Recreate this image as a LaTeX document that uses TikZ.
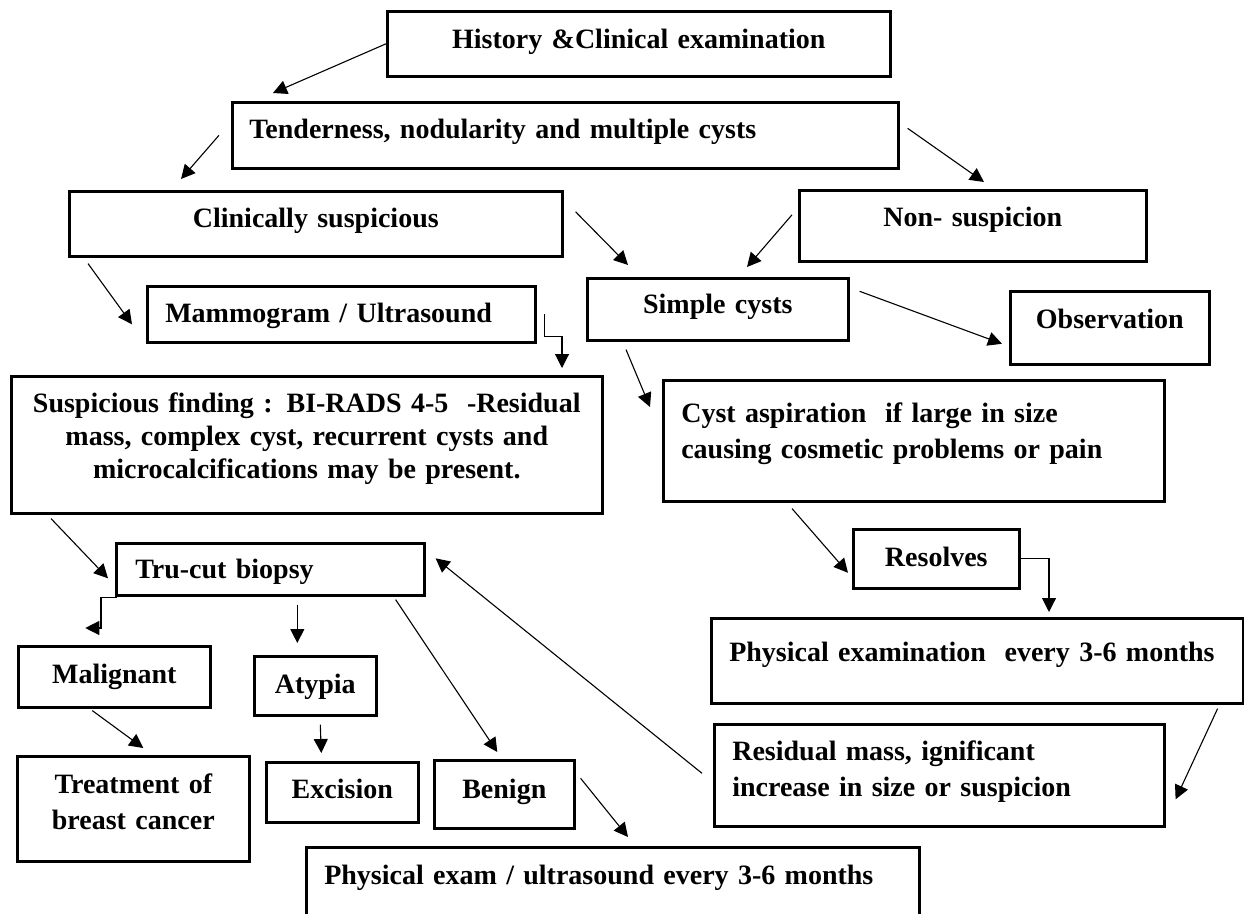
\documentclass[tikz,border=0pt]{standalone}
\usepackage{fontspec}
\setmainfont{Liberation Serif}
\usetikzlibrary{arrows.meta,calc}
\tikzset{
    box/.style={draw, line width=2.6pt, inner sep=0pt, anchor=north west, font=\bfseries\fontsize{28}{36}\selectfont},
    mid/.style={align=center},
    left/.style={align=left, inner xsep=18pt},
    flow/.style={line width=1.1pt, -{Triangle[length=14pt,width=14pt]}}
}
\begin{document}
\begin{tikzpicture}[x=1pt,y=-1pt]
        \useasboundingbox (0,0) rectangle (1244,913);
        % boxes
        \node[box, mid, text width=503pt, text height=37pt, text depth=28pt] (hist) at (386,10) {History \&Clinical examination};
        \node[box, left, inner xsep=17pt, text width=632pt, text height=36pt, text depth=30pt] (ten) at (231,101) {Tenderness, nodularity and multiple cysts};
        \node[box, mid, text width=493pt, text height=36pt, text depth=29pt] (clin) at (68,190) {Clinically suspicious};
        \node[box, mid, text width=347pt, text height=36pt, text depth=35pt] (nons) at (798,189) {Non- suspicion};
        \node[box, left, text width=352pt, text height=36pt, text depth=20pt] (mam) at (146,285) {Mammogram / Ultrasound};
        \node[box, mid, text width=261pt, text height=35pt, text depth=27pt] (simp) at (586,277) {Simple cysts};
        \node[box, mid, text width=199pt, text height=37pt, text depth=36pt] (obs) at (1009,290) {Observation};
        \node[box, mid, text width=591pt, text height=36pt, text depth=101pt, font=\bfseries\fontsize{28}{33}\selectfont] (susp) at (10,375)
            {Suspicious finding : BI-RADS 4-5\ \ -Residual\\ mass, complex cyst, recurrent cysts and\\ microcalcifications may be present.};
        \node[box, left, text width=465pt, text height=42pt, text depth=79pt] (cyst) at (662,379)
            {Cyst aspiration\ \ if large in size\\ causing cosmetic problems or pain};
        \node[box, left, inner xsep=19pt, text width=270pt, text height=35pt, text depth=17pt] (tru) at (115,542) {Tru-cut biopsy};
        \node[box, mid, text width=166pt, text height=37pt, text depth=22pt] (res) at (852,528) {Resolves};
        \node[box, left, text width=496pt, text height=43pt, text depth=42pt] (phys) at (710,617) {\mbox{Physical examination\ \ every 3-6 months}};
        \node[box, left, text width=414pt, text height=36pt, text depth=66pt] (resid) at (713,723)
            {Residual mass, ignificant\\ increase in size or suspicion};
        \node[box, mid, text width=192pt, text height=37pt, text depth=24pt] (mal) at (17,645) {Malignant};
        \node[box, mid, text width=122pt, text height=37pt, text depth=22pt] (aty) at (253,655) {Atypia};
        \node[box, mid, text width=232pt, text height=37pt, text depth=68pt] (treat) at (16,755) {Treatment of\\ breast cancer};
        \node[box, mid, text width=152pt, text height=36pt, text depth=24pt] (exc) at (265,761) {Excision};
        \node[box, mid, text width=140pt, text height=38pt, text depth=30pt] (ben) at (433,759) {Benign};
        \node[box, left, text width=577pt, text height=37pt, text depth=47pt] (pe) at (305,846) {Physical exam / ultrasound every 3-6 months};
        % arrows
        \draw[flow] (hist.west) -- ($(ten.north west)+(42,-8)$);
        \draw[flow] ($(ten.west)+(-12,0)$) -- ($(clin.north west)+(113,-11)$);
        \draw[flow] ($(ten.east)+(8,-7)$) -- ($(nons.north west)+(186,-7)$);
        \draw[flow] ($(clin.east)+(12,-12)$) -- ($(simp.north west)+(42,-12)$);
        \draw[flow] ($(nons.west)+(-6,-11)$) -- ($(simp.north west)+(161,-10)$);
        \draw[flow] ($(clin.south west)+(20,6)$) -- ($(mam.west)+(-14,10)$);
        \draw[flow] ($(mam.east)+(8,0)$) -- ++(0,22) -| ($(susp.north west)+(552,-7)$);
        \draw[flow] ($(simp.east)+(10,-18)$) -- ($(obs.west)+(-7,16)$);
        \draw[flow] ($(simp.south west)+(40,8)$) -- ($(cyst.north west)+(-12,28)$);
        \draw[flow] ($(susp.south west)+(41,4)$) -- ($(tru.west)+(-7,9)$);
        \draw[flow] ($(tru.south west)+(2,1)$) -- ++(-16,0) |- ($(mal.north)+(-29,-17)$);
        \draw[flow] ($(tru.south)+(27,8)$) -- ($(aty.north)+(-18,-12)$);
        \draw[flow] ($(tru.south east)+(-30,3)$) -- ($(ben.north)+(-7,-7)$);
        \draw[flow] ($(resid.west)+(-11,-2)$) -- ($(tru.east)+(10,-11)$);
        \draw[flow] ($(mal.south)+(-22,2)$) -- ($(treat.north)+(10,-7)$);
        \draw[flow] ($(aty.south)+(5,8)$) -- ($(exc.north)+(-21,-8)$);
        \draw[flow] ($(ben.east)+(5,-16)$) -- ($(pe.north west)+(323,-9)$);
        \draw[flow] ($(cyst.south west)+(130,6)$) -- ($(res.west)+(-4,14)$);
        \draw[flow] (res.east) -| ($(phys.north west)+(339,-5)$);
        \draw[flow] ($(phys.south east)+(-27,4)$) -- ($(resid.east)+(10,24)$);
\end{tikzpicture}
\end{document}
